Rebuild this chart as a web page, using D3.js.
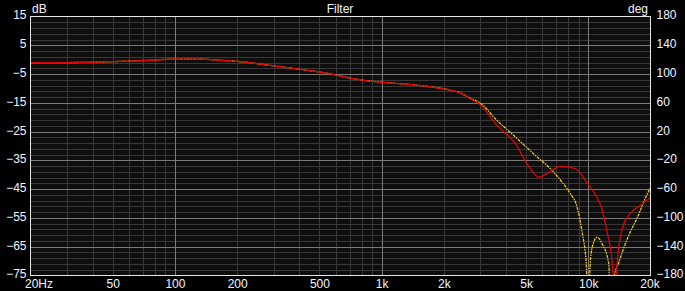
<!DOCTYPE html>
<html>
<head>
<meta charset="utf-8">
<script src="https://cdn.jsdelivr.net/npm/d3@7"></script>
<style>
  html, body { margin: 0; padding: 0; background: #000; }
  svg { display: block; }
  text { font-family: "Liberation Sans", Arial, sans-serif; font-size: 12px; fill: #f2f6ff; }
</style>
</head>
<body>
<svg id="chart" width="685" height="291"></svg>
<script>
// ---- data ----
const freqTicks = [20, 50, 100, 200, 500, 1000, 2000, 5000, 10000, 20000];
const freqLabels = ["20Hz", "50", "100", "200", "500", "1k", "2k", "5k", "10k", "20k"];
const dbTicks = [15, 5, -5, -15, -25, -35, -45, -55, -65, -75];
const degTicks = [180, 140, 100, 60, 20, -20, -60, -100, -140, -180];
const freqMinor = [30, 40, 50, 60, 70, 80, 90, 200, 300, 400, 500, 600, 700, 800, 900,
                   2000, 3000, 4000, 5000, 6000, 7000, 8000, 9000];
const freqMajor = [100, 1000, 10000];

const redFreq = [20, 30, 44, 60, 76, 100, 130, 166, 200, 290, 406, 506, 790, 988, 1540, 2150, 2400,
                 2690, 3030, 3557, 4444, 5060, 5760, 6560, 7340, 8000, 8670, 9200, 9690,
                 11040, 11460, 12340, 13050, 13300, 13440, 13600, 13800, 14600, 15700, 16500, 18220, 20000];
const redDb   = [-1.0, -1.0, -0.8, -0.5, -0.2, 0.2, 0.2, -0.2, -0.6, -2.0, -3.4, -4.3, -7.0, -7.8, -9.0, -10.6, -11.6,
                 -13.6, -15.9, -22.3, -29.2, -36.2, -40.8, -38.8, -37.0, -37.3, -37.9, -39.6, -42.0,
                 -48.0, -50.5, -60.0, -70.4, -85, -120, -85, -70.4, -58.8, -54.0, -52.4, -50.1, -47.9];

const yelFreq = [20, 30, 44, 60, 76, 100, 130, 166, 200, 290, 406, 506, 790, 988, 1540, 2150, 2400,
                 2690, 3030, 3557, 4444, 5552, 6688, 7474, 8200, 8836, 9340, 9800, 10000, 10200,
                 10440, 11040, 11670, 12570, 12940, 13300, 14060, 15700, 17240, 18920, 20000];
const yelDb   = [-1.0, -1.0, -0.8, -0.5, -0.2, 0.2, 0.2, -0.2, -0.6, -2.0, -3.4, -4.3, -7.0, -7.8, -9.0, -10.6, -11.5,
                 -13.4, -15.3, -20.6, -26.9, -33.3, -38.5, -42.6, -46.6, -51.3, -60.0, -72.0, -110, -72,
                 -65.2, -61.7, -64.0, -71.0, -110, -76, -70.4, -61.0, -55.0, -48.0, -44.5];

// ---- layout ----
const L = 30.5, R = 650.5, T = 16.5, B = 275.5;
const svg = d3.select("#chart");
const x = d3.scaleLog().domain([20, 20000]).range([L, R]);
const yL = d3.scaleLinear().domain([-75, 15]).range([B, T]);
const yR = d3.scaleLinear().domain([-180, 180]).range([B, T]);

svg.append("rect").attr("x", 0).attr("y", 0).attr("width", 685).attr("height", 291).attr("fill", "#000");
svg.append("rect").attr("x", L).attr("y", T).attr("width", R - L).attr("height", B - T).attr("fill", "#0e0e0e");

// grid
const g = svg.append("g").attr("shape-rendering", "crispEdges");
const dbMinor = d3.range(-73, 15, 2).filter(v => (v + 75) % 10 !== 0);
const dbMajor = dbTicks.filter(v => v !== 15 && v !== -75);
g.selectAll("line.hmin").data(dbMinor).join("line")
  .attr("x1", L).attr("x2", R).attr("y1", d => Math.round(yL(d)) + 0.5).attr("y2", d => Math.round(yL(d)) + 0.5)
  .attr("stroke", "#383838");
g.selectAll("line.vmin").data(freqMinor).join("line")
  .attr("y1", T).attr("y2", B).attr("x1", d => Math.round(x(d)) + 0.5).attr("x2", d => Math.round(x(d)) + 0.5)
  .attr("stroke", "#383838");
g.selectAll("line.hmaj").data(dbMajor).join("line")
  .attr("x1", L).attr("x2", R).attr("y1", d => Math.round(yL(d)) + 0.5).attr("y2", d => Math.round(yL(d)) + 0.5)
  .attr("stroke", "#7a7a7a");
g.selectAll("line.vmaj").data(freqMajor).join("line")
  .attr("y1", T).attr("y2", B).attr("x1", d => Math.round(x(d)) + 0.5).attr("x2", d => Math.round(x(d)) + 0.5)
  .attr("stroke", "#7a7a7a");

// curves
svg.append("clipPath").attr("id", "clip").append("rect")
  .attr("x", L).attr("y", T).attr("width", R - L).attr("height", B - T);
const plot = svg.append("g").attr("clip-path", "url(#clip)");
const line = d3.line().x(d => x(d[0])).y(d => yL(d[1])).curve(d3.curveMonotoneX);
plot.append("path").datum(d3.zip(yelFreq, yelDb)).attr("d", line)
  .attr("fill", "none").attr("stroke", "#ecc81c").attr("stroke-width", 1.3).attr("stroke-dasharray", "3,1,1.5,1");
plot.append("path").datum(d3.zip(redFreq, redDb)).attr("d", line)
  .attr("fill", "none").attr("stroke", "#e00000").attr("stroke-width", 1.3);

// frame
svg.append("rect").attr("x", L).attr("y", T).attr("width", R - L).attr("height", B - T)
  .attr("fill", "none").attr("stroke", "#e6e6e6").attr("shape-rendering", "crispEdges");

// axes
function styleAxis(sel) {
  sel.select(".domain").remove();
  sel.selectAll("text").attr("fill", "#f2f6ff").style("font-size", "12px")
    .style("font-family", '"Liberation Sans", Arial, sans-serif');
}
svg.append("g").attr("transform", `translate(${L},0)`)
  .call(d3.axisLeft(yL).tickValues(dbTicks).tickSize(0).tickPadding(4).tickFormat(d3.format("d")))
  .call(styleAxis)
  .selectAll("text").attr("dy", "0.2em");
svg.append("g").attr("transform", `translate(${R},0)`)
  .call(d3.axisRight(yR).tickValues(degTicks).tickSize(0).tickPadding(6).tickFormat(d3.format("d")))
  .call(styleAxis)
  .selectAll("text").attr("dy", "0.2em");
const xa = svg.append("g").attr("transform", `translate(0,${B})`)
  .call(d3.axisBottom(x).tickValues(freqTicks).tickSize(0).tickPadding(3.5)
    .tickFormat((d, i) => freqLabels[i]))
  .call(styleAxis);
xa.selectAll("text").filter(d => d === 20).attr("text-anchor", "start").attr("x", -6);
xa.selectAll("text").filter(d => d === 20000).attr("x", -1);

// titles
svg.append("text").attr("x", 340).attr("y", 12.5).attr("text-anchor", "middle").text("Filter");
svg.append("text").attr("x", 32).attr("y", 12.5).text("dB");
svg.append("text").attr("x", 648).attr("y", 12.5).attr("text-anchor", "end").text("deg");
</script>
</body>
</html>
